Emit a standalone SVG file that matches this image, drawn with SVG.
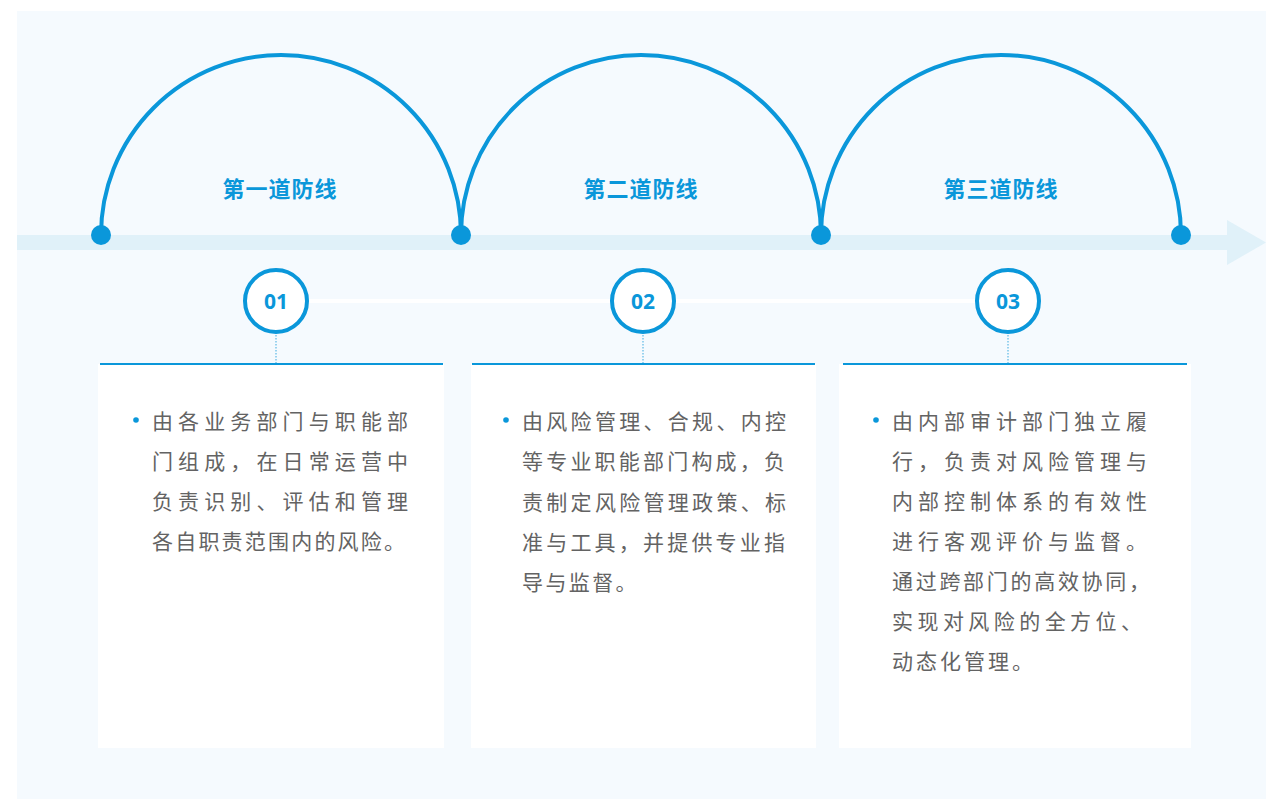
<svg xmlns="http://www.w3.org/2000/svg" width="1277" height="799" viewBox="0 0 1277 799">
<style>
.arc{fill:none;stroke:#0a97da;stroke-width:4}
.dot{fill:#0a97da}
.title{font-family:"Noto Sans CJK SC","Noto Sans",sans-serif;font-size:22px;font-weight:700;fill:#0a97da;text-anchor:middle;letter-spacing:1px}
.num{font-family:"Noto Sans","Open Sans",sans-serif;font-size:21px;font-weight:700;fill:#0a97da;text-anchor:middle}
.ring{fill:#ffffff;stroke:#0a97da;stroke-width:4}
.card{fill:#ffffff}
.top{stroke:#0a97da;stroke-width:2}
.stem{stroke:#5bb8e4;stroke-width:1.2;stroke-dasharray:1.5 1.5}
.body{font-family:"Noto Sans CJK SC","Noto Sans",sans-serif;font-size:21px;fill:#636363}
.last{letter-spacing:2.4px}
.bullet{fill:#0a97da}
</style>
<rect x="17" y="11" width="1249" height="788" fill="#f5fafe"/>
<g id="timeline">
<rect x="17" y="235" width="1212" height="15" fill="#e0f1f9"/>
<polygon points="1227,220 1266,242.5 1227,265" fill="#e0f1f9"/>
</g>
<g id="connectors">
<path class="arc" d="M101,235 A180,180 0 0 1 461,235"/>
<path class="arc" d="M461,235 A180,180 0 0 1 821,235"/>
<path class="arc" d="M821,235 A180,180 0 0 1 1181,235"/>
<line x1="309" y1="301" x2="976" y2="301" stroke="#ffffff" stroke-width="4"/>
<line class="stem" x1="276" y1="335" x2="276" y2="364"/>
<line class="stem" x1="643" y1="335" x2="643" y2="364"/>
<line class="stem" x1="1008" y1="335" x2="1008" y2="364"/>
<circle class="dot" cx="101" cy="235" r="10"/>
<circle class="dot" cx="461" cy="235" r="10"/>
<circle class="dot" cx="821" cy="235" r="10"/>
<circle class="dot" cx="1181" cy="235" r="10"/>
</g>
<g id="line1">
<text class="title" x="280" y="197">第一道防线</text>
<circle class="ring" cx="276" cy="301" r="31"/>
<text class="num" x="276" y="308.5">01</text>
<rect class="card" x="98" y="364" width="346" height="384"/>
<line class="top" x1="100" y1="364" x2="443" y2="364"/>
<circle class="bullet" cx="136" cy="420" r="2.8"/>
<text class="body" x="152" y="429" textLength="256" lengthAdjust="spacing">由各业务部门与职能部</text>
<text class="body" x="152" y="469" textLength="256" lengthAdjust="spacing">门组成，在日常运营中</text>
<text class="body" x="152" y="509" textLength="256" lengthAdjust="spacing">负责识别、评估和管理</text>
<text class="body last" x="152" y="549" style="letter-spacing:2.2px">各自职责范围内的风险。</text>
</g>
<g id="line2">
<text class="title" x="641" y="197">第二道防线</text>
<circle class="ring" cx="643" cy="301" r="31"/>
<text class="num" x="643" y="308.5">02</text>
<rect class="card" x="471" y="364" width="345" height="384"/>
<line class="top" x1="472" y1="364" x2="815" y2="364"/>
<circle class="bullet" cx="506" cy="420" r="2.8"/>
<text class="body" x="522" y="429" textLength="264" lengthAdjust="spacing">由风险管理、合规、内控</text>
<text class="body" x="522" y="469" textLength="263" lengthAdjust="spacing">等专业职能部门构成，负</text>
<text class="body" x="522" y="510" textLength="264" lengthAdjust="spacing">责制定风险管理政策、标</text>
<text class="body" x="522" y="550" textLength="263" lengthAdjust="spacing">准与工具，并提供专业指</text>
<text class="body last" x="522" y="590">导与监督。</text>
</g>
<g id="line3">
<text class="title" x="1001" y="197">第三道防线</text>
<circle class="ring" cx="1008" cy="301" r="31"/>
<text class="num" x="1008" y="308.5">03</text>
<rect class="card" x="839" y="364" width="352" height="384"/>
<line class="top" x1="843" y1="364" x2="1187" y2="364"/>
<circle class="bullet" cx="876" cy="420" r="2.8"/>
<text class="body" x="892" y="429" textLength="255" lengthAdjust="spacing">由内部审计部门独立履</text>
<text class="body" x="892" y="469" textLength="255" lengthAdjust="spacing">行，负责对风险管理与</text>
<text class="body" x="892" y="509" textLength="255" lengthAdjust="spacing">内部控制体系的有效性</text>
<text class="body" x="892" y="549" textLength="255" lengthAdjust="spacing">进行客观评价与监督。</text>
<text class="body" x="892" y="589" textLength="258" lengthAdjust="spacing">通过跨部门的高效协同，</text>
<text class="body" x="892" y="629" textLength="250" lengthAdjust="spacing">实现对风险的全方位、</text>
<text class="body last" x="892" y="669" style="letter-spacing:3px">动态化管理。</text>
</g>
</svg>
